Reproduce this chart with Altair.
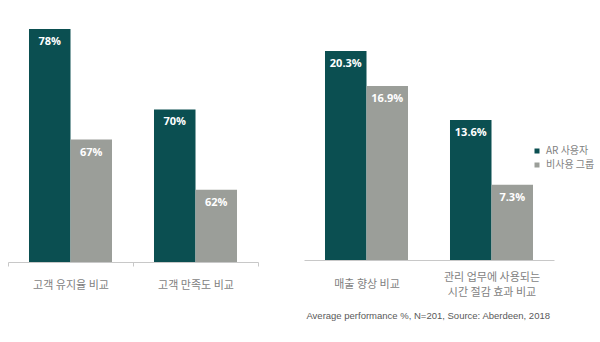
import altair as alt
import pandas as pd

series = ["AR 사용자", "비사용 그룹"]
colors = ["#0b4f51", "#9b9e99"]

left_categories = ["고객 유지율 비교", "고객 만족도 비교"]
left_ar = [78, 70]
left_non = [67, 62]

right_categories = ["매출 향상 비교", "관리 업무에 사용되는\n시간 절감 효과 비교"]
right_ar = [20.3, 13.6]
right_non = [16.9, 7.3]

footer = "Average performance %, N=201, Source: Aberdeen, 2018"


def make_df(cats, ar, non, fmt):
    rows = []
    for c, a, n in zip(cats, ar, non):
        rows.append({"cat": c, "series": series[0], "value": a, "label": fmt.format(a)})
        rows.append({"cat": c, "series": series[1], "value": n, "label": fmt.format(n)})
    return pd.DataFrame(rows)


left_df = make_df(left_categories, left_ar, left_non, "{:.0f}%")
right_df = make_df(right_categories, right_ar, right_non, "{:.1f}%")

color_scale = alt.Scale(domain=series, range=colors)
off_scale = alt.Scale(domain=series, paddingOuter=0.506, paddingInner=0)

baseline_cond = {
    "condition": {"test": "indexof(datum.label, '\\n') >= 0", "value": "line-bottom"},
    "value": "middle",
}


def panel(df, cats, ydomain, height, ticks, label_pad, base):
    x = alt.X(
        "cat:N",
        sort=cats,
        scale=alt.Scale(paddingInner=0, paddingOuter=0),
        title=None,
        axis=alt.Axis(
            labelAngle=0,
            ticks=ticks,
            tickBand="extent",
            tickSize=4,
            labelPadding=label_pad,
            labelBaseline=baseline_cond,
            labelLineHeight=15,
            labelExpr="split(datum.label, '\\n')",
        ),
    )
    yscale = alt.Scale(domain=ydomain, nice=False, zero=False)
    b = alt.Chart(df).mark_bar().encode(
        x=x,
        xOffset=alt.XOffset("series:N", sort=series, scale=off_scale),
        y=alt.Y("value:Q", scale=yscale, axis=None),
        y2=alt.datum(base),
        color=alt.Color(
            "series:N",
            scale=color_scale,
            sort=series,
            legend=alt.Legend(
                title=None,
                orient="none",
                legendX=524,
                legendY=137,
                symbolType="square",
                symbolSize=25,
                labelFont="Noto Sans CJK KR",
                labelFontSize=10,
                labelColor="#7f7f7f",
                rowPadding=4,
                symbolOffset=0,
            ),
        ),
    )
    t = alt.Chart(df).mark_text(
        baseline="top", dy=7, color="white", fontWeight="bold", fontSize=11, font="Open Sans"
    ).encode(
        x=x,
        xOffset=alt.XOffset("series:N", sort=series, scale=off_scale),
        y=alt.Y("value:Q", scale=yscale, axis=None),
        text="label:N",
    )
    return alt.layer(b, t).properties(width=250, height=height)


left = panel(left_df, left_categories, [54.8, 80], 253, True, 19, 54.8)
right = panel(right_df, right_categories, [0, 24.37], 251, False, 24, 0)

chart = (
    alt.hconcat(left, right, spacing=45)
    .properties(
        padding={"left": 7, "top": 9, "right": 0, "bottom": 0},
        title=alt.TitleParams(
            footer,
            orient="bottom",
            anchor="end",
            fontSize=9.5,
            font="Liberation Sans",
            fontWeight="normal",
            color="#595959",
            offset=14,
            dx=-45,
        ),
    )
    .configure_view(stroke=None)
    .configure_axis(
        labelColor="#7f7f7f",
        labelFont="Noto Sans CJK KR",
        labelFontSize=11,
        domainColor="#c8c8c8",
        tickColor="#c8c8c8",
        grid=False,
    )
)

chart.save("out.html", embed_options={"renderer": "svg", "actions": False})
